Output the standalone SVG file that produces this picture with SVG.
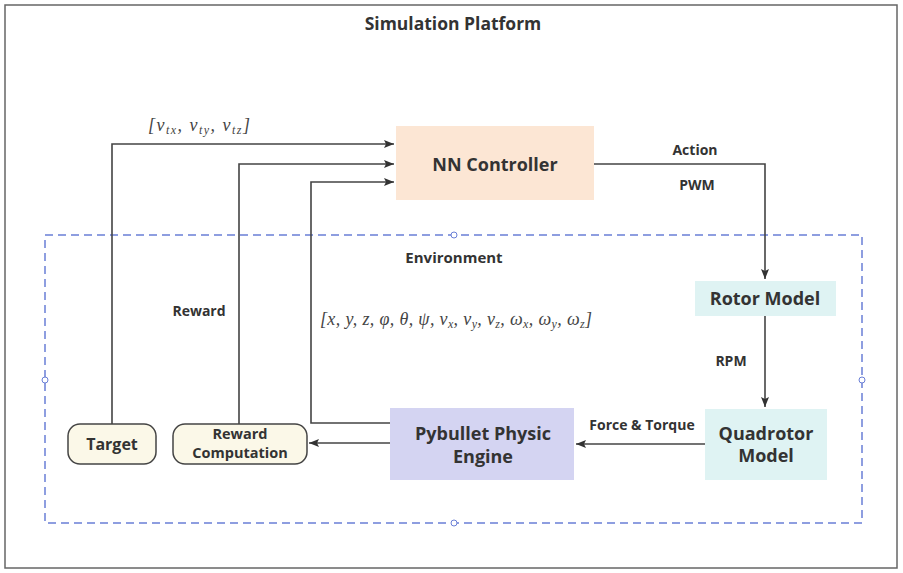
<svg xmlns="http://www.w3.org/2000/svg" width="903" height="573" viewBox="0 0 903 573">
<defs>
<marker id="arr" markerWidth="10" markerHeight="8" refX="10" refY="4" orient="auto" markerUnits="userSpaceOnUse">
<path d="M0,0 L10,4 L0,8 L2,4 Z" fill="#333"/>
</marker>
<style>
.lbl{font-family:"Open Sans","Noto Sans",sans-serif;font-weight:bold;fill:#333;text-anchor:middle}
.node{font-size:18px}
.small{font-size:14px}
.math{font-family:"Liberation Serif",serif;font-style:italic;font-size:18px;fill:#444}
.sub{font-size:12px}
.conn{fill:none;stroke:#444;stroke-width:1.6}
.handle{fill:#fff;stroke:#6a7fd6;stroke-width:1}
</style>
</defs>
<rect x="0" y="0" width="903" height="573" fill="#fff"/>
<rect x="5" y="5" width="892" height="563" fill="none" stroke="#666" stroke-width="1.5"/>
<text class="lbl" x="453" y="30" font-size="17.5">Simulation Platform</text>

<g id="environment">
<rect x="45" y="235" width="817" height="288" fill="none" stroke="#6a7fd6" stroke-width="1.5" stroke-dasharray="8,5"/>
<circle class="handle" cx="454" cy="235" r="3"/>
<circle class="handle" cx="454" cy="523" r="3"/>
<circle class="handle" cx="45" cy="380" r="3"/>
<circle class="handle" cx="862" cy="380" r="3"/>
<text class="lbl" x="454" y="263" font-size="15">Environment</text>
</g>

<g id="connectors">
<path class="conn" d="M112,424 V144 H394" marker-end="url(#arr)"/>
<path class="conn" d="M239,424 V164 H394" marker-end="url(#arr)"/>
<path class="conn" d="M390,423 H311 V182 H394" marker-end="url(#arr)"/>
<path class="conn" d="M594,164 H765 V279" marker-end="url(#arr)"/>
<path class="conn" d="M765,316 V407" marker-end="url(#arr)"/>
<path class="conn" d="M705,444 H576" marker-end="url(#arr)"/>
<path class="conn" d="M390,443 H309" marker-end="url(#arr)"/>
<text class="lbl small" x="695" y="155">Action</text>
<text class="lbl small" x="697" y="190">PWM</text>
<text class="lbl small" x="731" y="366">RPM</text>
<text class="lbl small" x="642" y="430">Force &amp; Torque</text>
<text class="lbl small" x="199" y="316">Reward</text>
<text class="math" x="148" y="131" textLength="102" lengthAdjust="spacing">[<tspan>v</tspan><tspan class="sub" dy="3">tx</tspan><tspan dy="-3">, v</tspan><tspan class="sub" dy="3">ty</tspan><tspan dy="-3">, v</tspan><tspan class="sub" dy="3">tz</tspan><tspan dy="-3">]</tspan></text>
<text class="math" x="320" y="325" textLength="272" lengthAdjust="spacing">[x, y, z, φ, θ, ψ, v<tspan class="sub" dy="3">x</tspan><tspan dy="-3">, v</tspan><tspan class="sub" dy="3">y</tspan><tspan dy="-3">, v</tspan><tspan class="sub" dy="3">z</tspan><tspan dy="-3">, ω</tspan><tspan class="sub" dy="3">x</tspan><tspan dy="-3">, ω</tspan><tspan class="sub" dy="3">y</tspan><tspan dy="-3">, ω</tspan><tspan class="sub" dy="3">z</tspan><tspan dy="-3">]</tspan></text>
</g>

<g id="nn-controller">
<rect x="396" y="126" width="198" height="74" fill="#fce6d4"/>
<text class="lbl node" x="495" y="171">NN Controller</text>
</g>

<g id="rotor-model">
<rect x="695" y="281" width="141" height="35" fill="#dff3f3"/>
<text class="lbl node" x="765" y="305">Rotor Model</text>
</g>

<g id="quadrotor-model">
<rect x="705" y="409" width="122" height="71" fill="#dff3f3"/>
<text class="lbl node" x="766" y="440">Quadrotor</text>
<text class="lbl node" x="766" y="462">Model</text>
</g>

<g id="pybullet">
<rect x="390" y="408" width="184" height="72" fill="#d4d4f2"/>
<text class="lbl node" x="483" y="440">Pybullet Physic</text>
<text class="lbl node" x="483" y="463">Engine</text>
</g>

<g id="target">
<rect x="68" y="424" width="88" height="40" rx="12" fill="#fbf8e8" stroke="#444" stroke-width="1.5"/>
<text class="lbl" x="112" y="450" font-size="16">Target</text>
</g>

<g id="reward-computation">
<rect x="173" y="424" width="134" height="40" rx="12" fill="#fbf8e8" stroke="#444" stroke-width="1.5"/>
<text class="lbl" x="240" y="439" font-size="14.5">Reward</text>
<text class="lbl" x="240" y="458" font-size="14.5">Computation</text>
</g>
</svg>
